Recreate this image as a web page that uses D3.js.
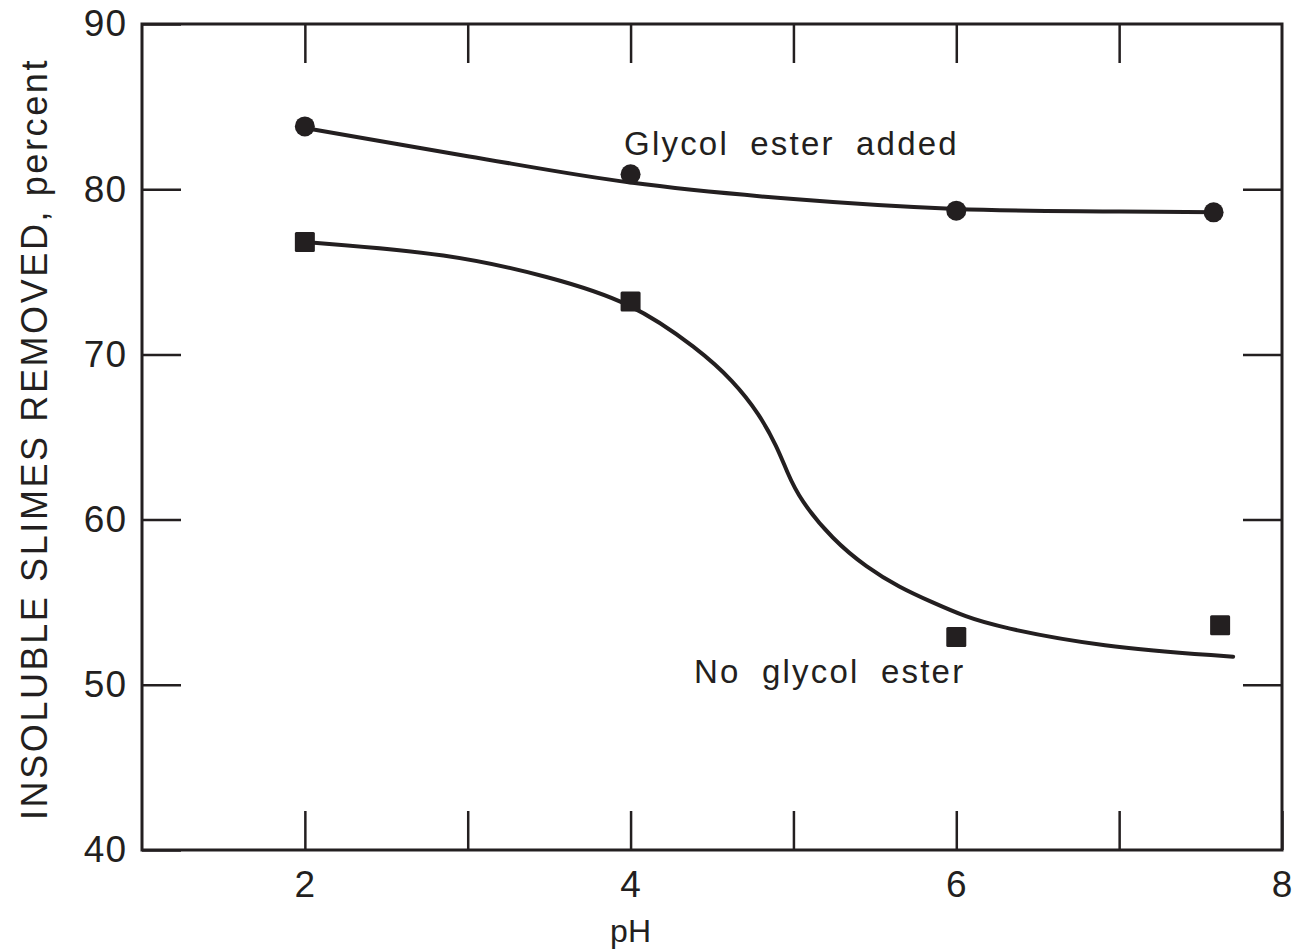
<!DOCTYPE html>
<html>
<head>
<meta charset="utf-8">
<script src="https://cdn.jsdelivr.net/npm/d3@7"></script>
<style>
  html, body { margin: 0; padding: 0; background: #fff; }
  svg text { font-family: "Liberation Sans", Arial, sans-serif; fill: #231f20; }
</style>
</head>
<body>
<div id="chart"></div>
<script>
// measured points
const phEster = [2, 4, 6, 7.58];
const valEster = [83.8, 80.9, 78.7, 78.6];
const phNoEster = [2, 4, 6, 7.62];
const valNoEster = [76.8, 73.2, 52.9, 53.6];

// hand drawn fit curves
const fitEsterPh = [2, 3, 4, 5, 6, 7, 7.6];
const fitEsterVal = [83.7, 82.0, 80.4, 79.4, 78.8, 78.65, 78.6];
const fitNoPh = [2, 2.9, 3.5, 4, 4.42, 4.63, 4.79, 4.9, 4.96, 5.04, 5.24, 5.45, 5.65, 5.85, 6.06, 6.26, 6.88, 7.7];
const fitNoVal = [76.8, 76.1, 74.7, 73.2, 70.3, 68.4, 66.4, 64.4, 62.9, 61.2, 58.8, 57.1, 55.9, 55.0, 54.1, 53.5, 52.3, 51.7];

const xTicks = [2, 3, 4, 5, 6, 7, 8];
const xLabels = [2, 4, 6, 8];
const yTicks = [40, 50, 60, 70, 80, 90];

const notes = [
  { text: "Glycol ester added", ph: 3.96, val: 82.07 },
  { text: "No glycol ester", ph: 4.39, val: 50.1 }
];

const W = 1304, H = 951;
const plotL = 142, plotR = 1282, plotT = 24, plotB = 850;
const ink = "#231f20";

const x = d3.scaleLinear().domain([1, 8]).range([plotL, plotR]);
const y = d3.scaleLinear().domain([40, 90]).range([plotB, plotT]);

const svg = d3.select("#chart").append("svg")
  .attr("width", W)
  .attr("height", H);

// axes, ticks pointing inwards
const tickLen = 39;
const gx = svg.append("g")
  .attr("transform", `translate(0,${plotB})`)
  .call(d3.axisBottom(x).tickValues(xTicks).tickSize(-tickLen).tickPadding(21)
    .tickFormat(d => xLabels.includes(d) ? d : ""));
svg.append("g")
  .attr("transform", `translate(0,${plotT})`)
  .call(d3.axisTop(x).tickValues(xTicks.filter(d => d < 8)).tickSize(-tickLen).tickFormat(""));
const gy = svg.append("g")
  .attr("transform", `translate(${plotL},0)`)
  .call(d3.axisLeft(y).tickValues(yTicks).tickSize(-tickLen).tickPadding(15));
svg.append("g")
  .attr("transform", `translate(${plotR},0)`)
  .call(d3.axisRight(y).tickValues(yTicks.filter(d => d > 40 && d < 90)).tickSize(-tickLen).tickFormat(""));

svg.selectAll(".domain").remove();
svg.selectAll(".tick line").attr("stroke", ink).attr("stroke-width", 2.5);
gx.selectAll("text").attr("font-size", 37).attr("fill", ink).attr("letter-spacing", 1);
gy.selectAll("text").attr("font-size", 37).attr("fill", ink).attr("letter-spacing", 1);

// frame
svg.append("rect")
  .attr("x", plotL).attr("y", plotT)
  .attr("width", plotR - plotL).attr("height", plotB - plotT)
  .attr("fill", "none").attr("stroke", ink).attr("stroke-width", 3);

// axis titles
svg.append("text")
  .attr("x", x(4)).attr("y", 942)
  .attr("text-anchor", "middle")
  .attr("font-size", 32)
  .text("pH");

svg.append("text")
  .attr("transform", `translate(47,439) rotate(-90)`)
  .attr("text-anchor", "middle")
  .attr("font-size", 36)
  .attr("letter-spacing", 2.6)
  .text("INSOLUBLE SLIMES REMOVED, percent");

// fitted curves
const smooth = d3.line()
  .x(d => x(d[0]))
  .y(d => y(d[1]))
  .curve(d3.curveCatmullRom.alpha(0.5));

const basis = d3.line()
  .x(d => x(d[0]))
  .y(d => y(d[1]))
  .curve(d3.curveBasis);

svg.append("path")
  .datum(d3.zip(fitEsterPh, fitEsterVal))
  .attr("d", smooth)
  .attr("fill", "none").attr("stroke", ink).attr("stroke-width", 4)
  .attr("stroke-linecap", "round");

svg.append("path")
  .datum(d3.zip(fitNoPh, fitNoVal))
  .attr("d", basis)
  .attr("fill", "none").attr("stroke", ink).attr("stroke-width", 4)
  .attr("stroke-linecap", "round");

// markers
svg.selectAll(".dot")
  .data(d3.zip(phEster, valEster))
  .enter().append("circle")
  .attr("class", "dot")
  .attr("cx", d => x(d[0]))
  .attr("cy", d => y(d[1]))
  .attr("r", 10)
  .attr("fill", ink);

const sq = 20;
svg.selectAll(".sq")
  .data(d3.zip(phNoEster, valNoEster))
  .enter().append("rect")
  .attr("class", "sq")
  .attr("x", d => x(d[0]) - sq / 2)
  .attr("y", d => y(d[1]) - sq / 2)
  .attr("width", sq).attr("height", sq)
  .attr("rx", 1.5)
  .attr("fill", ink);

// curve labels
svg.selectAll(".note")
  .data(notes)
  .enter().append("text")
  .attr("class", "note")
  .attr("x", d => x(d.ph))
  .attr("y", d => y(d.val))
  .attr("font-size", 33)
  .attr("letter-spacing", 2.2)
  .attr("word-spacing", 10)
  .text(d => d.text);
</script>
</body>
</html>
